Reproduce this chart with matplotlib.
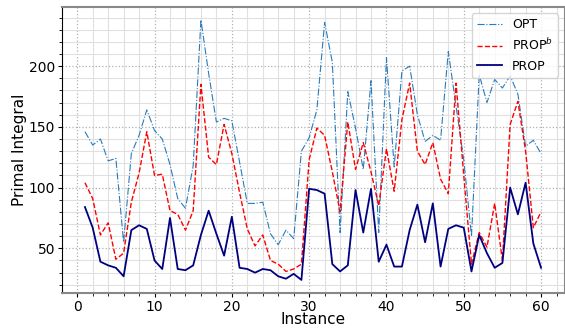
import numpy as np
import matplotlib
matplotlib.use("Agg")
import matplotlib.pyplot as plt
from matplotlib.ticker import MultipleLocator

instances = list(range(1, 61))

opt = [146, 135, 140, 122, 124, 55, 128, 143, 164, 147,
       140, 119, 91, 83, 118, 238, 194, 154, 157, 155,
       121, 87, 87, 88, 62, 53, 65, 58, 130, 141,
       164, 236, 203, 63, 179, 149, 115, 188, 63, 207,
       117, 196, 200, 160, 138, 143, 139, 212, 167, 123,
       60, 193, 170, 189, 182, 192, 177, 134, 139, 128]

prop_b = [104, 91, 61, 71, 41, 46, 88, 112, 146, 110,
          111, 81, 78, 65, 81, 185, 125, 119, 152, 128,
          96, 66, 52, 61, 40, 37, 31, 33, 37, 123,
          149, 143, 113, 80, 154, 115, 137, 113, 85, 132,
          97, 156, 186, 130, 119, 137, 107, 95, 186, 110,
          37, 63, 51, 87, 40, 152, 171, 130, 67, 80]

prop = [84, 67, 39, 36, 34, 27, 65, 69, 66, 40,
        33, 75, 33, 32, 36, 61, 81, 62, 44, 76,
        34, 33, 30, 33, 32, 27, 25, 29, 24, 99,
        98, 95, 37, 31, 36, 98, 63, 99, 39, 53,
        35, 35, 65, 86, 55, 87, 35, 66, 69, 67,
        31, 61, 46, 34, 38, 100, 78, 104, 54, 34]

fig, ax = plt.subplots(figsize=(5.65, 3.31), dpi=100)
fig.subplots_adjust(left=0.11, right=0.998, top=0.979, bottom=0.115)

ax.plot(instances, opt, color='#2b7bba', linestyle='-.', linewidth=0.8, label='OPT')
ax.plot(instances, prop_b, color='red', linestyle='--', linewidth=1.0, label='PROP$^b$')
ax.plot(instances, prop, color='navy', linestyle='-', linewidth=1.3, label='PROP')

ax.xaxis.set_minor_locator(MultipleLocator(2))
ax.yaxis.set_minor_locator(MultipleLocator(10))
ax.grid(which='major', color='#b0b0b0', linestyle=':', linewidth=0.9)
ax.grid(which='minor', color='#e0e0e0', linestyle='-', linewidth=0.8)
ax.set_axisbelow(True)

for side in ('top', 'bottom', 'right'):
    ax.spines[side].set_color('#888888')
ax.spines['top'].set_linewidth(1.5)
ax.spines['bottom'].set_linewidth(1.5)

ax.set_xlabel('Instance', fontsize=11, labelpad=-1)
ax.set_ylabel('Primal Integral', fontsize=11, labelpad=1)
ax.tick_params(labelsize=10, length=3, pad=2)
ax.tick_params(which='minor', length=2.5)
ax.legend(loc='upper right', fontsize=9)

fig.savefig('out.png')
